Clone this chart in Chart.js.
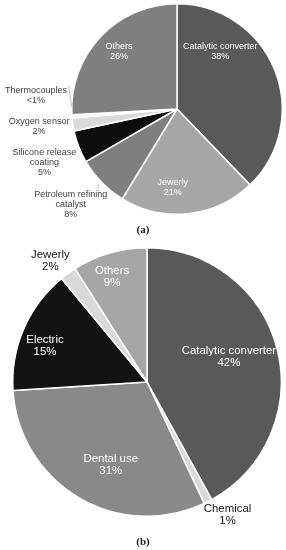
<!DOCTYPE html>
<html>
<head>
<meta charset="utf-8">
<script src="https://cdn.jsdelivr.net/npm/chart.js@4.4.1/dist/chart.umd.min.js"></script>
<style>
  body { margin: 0; background: #fff; width: 286px; height: 550px; position: relative; overflow: hidden; }
  canvas { position: absolute; left: 0; }
  #chartA { top: 0; }
  #chartB { top: 240px; }
  .cap { position: absolute; left: 0; width: 286px; text-align: center; font-family: "Liberation Serif", serif; font-weight: bold; font-size: 11px; color: #222; }
</style>
</head>
<body>
<canvas id="chartA" width="286" height="240"></canvas>
<canvas id="chartB" width="286" height="310"></canvas>
<div class="cap" style="top:223px">(a)</div>
<div class="cap" style="top:535px">(b)</div>
<script>
const chartAArea = document.getElementById("chartA");
const chartBArea = document.getElementById("chartB");

// (a) data, clockwise from top
var aLabels = ["Catalytic converter", "Jewerly", "Petroleum refining catalyst", "Silicone release coating", "Oxygen sensor", "Thermocouples", "Others"];
var aValues = [38, 21, 8, 5, 2, 0.5, 26];
var aText = [["Catalytic converter", "38%"], ["Jewerly", "21%"], ["Petroleum refining", "catalyst", "8%"], ["Silicone release", "coating", "5%"], ["Oxygen sensor", "2%"], ["Thermocouples", "<1%"], ["Others", "26%"]];
var aColors = ["#595959", "#a6a6a6", "#7f7f7f", "#0d0d0d", "#d9d9d9", "#f2f2f2", "#7f7f7f"];

// (b) data
var bLabels = ["Catalytic converter", "Chemical", "Dental use", "Electric", "Jewerly", "Others"];
var bValues = [42, 1, 31, 15, 2, 9];
var bText = [["Catalytic converter", "42%"], ["Chemical", "1%"], ["Dental use", "31%"], ["Electric", "15%"], ["Jewerly", "2%"], ["Others", "9%"]];
var bColors = ["#595959", "#d9d9d9", "#898989", "#121212", "#d9d9d9", "#a6a6a6"];

// label anchors relative to pie centre, in units of radius
var aPos = [[0.41, -0.55], [-0.04, 0.75], [-1.01, 0.91], [-1.26, 0.51], [-1.31, 0.165], [-1.34, -0.13], [-0.55, -0.55]];
var aInk = ["#fff", "#fff", "#404040", "#404040", "#404040", "#404040", "#fff"];
var bPos = [[0.61, -0.19], [0.60, 0.99], [-0.27, 0.62], [-0.76, -0.27], [-0.72, -0.90], [-0.26, -0.78]];
var bInk = ["#fff", "#111", "#fff", "#fff", "#111", "#fff"];

//draws the slice labels
function labelPlugin(text, pos, ink, size, lineH) {
    return {
        id: "sliceLabels",
        afterDraw: function (chart) {
            var ctx = chart.ctx;
            var arc = chart.getDatasetMeta(0).data[0];
            var cx = arc.x, cy = arc.y, r = arc.outerRadius;
            ctx.save();
            ctx.font = size + "px 'Liberation Sans', Arial, sans-serif";
            ctx.textAlign = "center";
            ctx.textBaseline = "middle";
            for (var i = 0; i < text.length; i++) {
                var lines = text[i];
                var x = cx + pos[i][0] * r;
                var y = cy + pos[i][1] * r - (lines.length - 1) * lineH / 2;
                ctx.fillStyle = ink[i];
                for (var j = 0; j < lines.length; j++) {
                    ctx.fillText(lines[j], x, y + j * lineH);
                }
            }
            ctx.restore();
        }
    };
}

//thin leader lines for the small outside labels in (a)
const leaderPlugin = {
    id: "leaders",
    afterDraw: function (chart) {
        var ctx = chart.ctx;
        var arc = chart.getDatasetMeta(0).data[0];
        var cx = arc.x, cy = arc.y, r = arc.outerRadius;
        var segs = [[[-1.03, -0.22], [-1.0, -0.02]], [[-0.75, 0.71], [-0.75, 0.79]]];
        ctx.save();
        ctx.strokeStyle = "#bfbfbf";
        ctx.lineWidth = 1;
        segs.forEach(function (s) {
            ctx.beginPath();
            ctx.moveTo(cx + s[0][0] * r, cy + s[0][1] * r);
            ctx.lineTo(cx + s[1][0] * r, cy + s[1][1] * r);
            ctx.stroke();
        });
        ctx.restore();
    }
};

function makePie(area, labels, values, colors, padding, plugins) {
    return new Chart(area, {
        type: 'pie',
        data: {
            labels: labels,
            datasets: [{
                data: values,
                backgroundColor: colors,
                borderColor: "#ffffff",
                borderWidth: 1.5
            }]
        },
        options: {
            responsive: false,
            animation: false,
            layout: { padding: padding },
            plugins: {
                legend: { display: false },
                tooltip: { enabled: false }
            }
        },
        plugins: plugins
    });
}

var pieA = makePie(chartAArea, aLabels, aValues, aColors, { left: 71, right: 3, top: 3, bottom: 25 },
    [leaderPlugin, labelPlugin(aText, aPos, aInk, 9, 10)]);
var pieB = makePie(chartBArea, bLabels, bValues, bColors, { left: 12, right: 4, top: 7, bottom: 33 },
    [labelPlugin(bText, bPos, bInk, 11.4, 12)]);
</script>
</body>
</html>
